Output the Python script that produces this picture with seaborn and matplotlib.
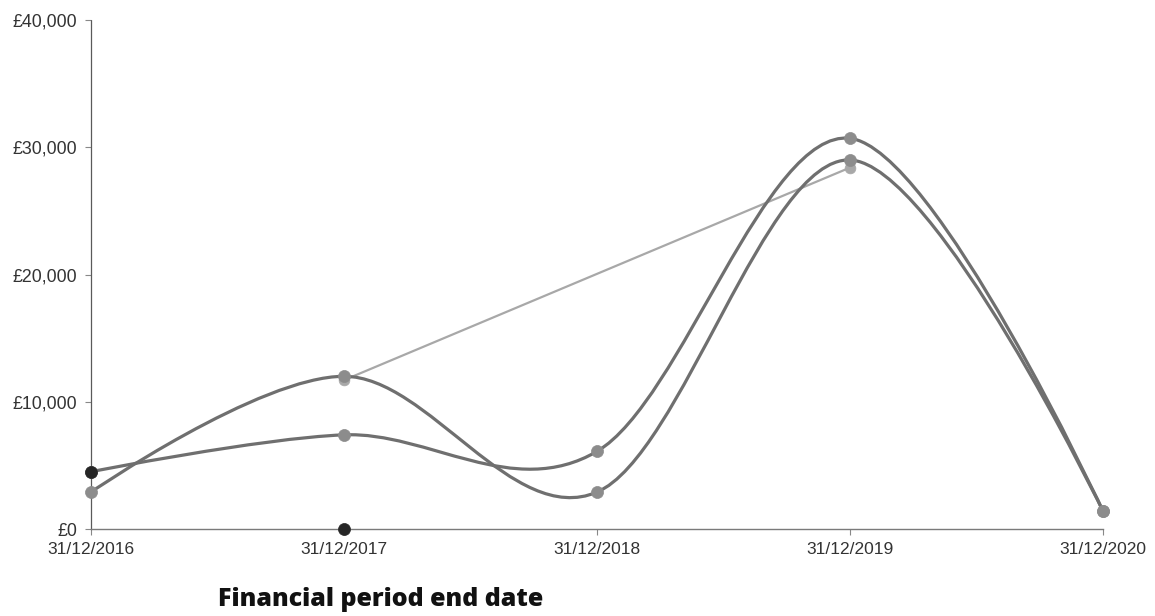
import numpy as np
import matplotlib
matplotlib.use("Agg")
import matplotlib.pyplot as plt
from matplotlib.path import Path
from matplotlib.patches import PathPatch
from matplotlib.ticker import FuncFormatter
import seaborn as sns

# Financial period end dates (category axis)
periods = ["31/12/2016", "31/12/2017", "31/12/2018", "31/12/2019", "31/12/2020"]

# Values per period (None = no figure filed for that period)
series_a = [4500, 7400, 6100, 30700, 1400]
series_b = [2900, 12000, 2900, 29000, 1400]
series_c = [None, 11700, None, 28400, None]
series_d = [4500, 0, None, None, None]

y_ticks = [0, 10000, 20000, 30000, 40000]

sns.set_theme(style="white")
plt.rcParams["font.family"] = ["Liberation Sans", "DejaVu Sans"]

fig = plt.figure(figsize=(11.55, 6.16), dpi=100)
ax = fig.add_axes([91 / 1155, 1 - 529 / 616, (1103 - 91) / 1155, (529 - 20) / 616])

CURVE = "#6f6f6f"
MARK = "#8c8c8c"
LIGHT = "#a8a8a8"
DARK = "#262626"


def cardinal_path(xs, ys, tension=0.0):
    """Cardinal spline through the points as Bezier segments (end controls on the end points)."""
    p = np.column_stack([np.asarray(xs, float), np.asarray(ys, float)])
    n = len(p)
    if n < 3:
        return Path(p, [Path.MOVETO] + [Path.LINETO] * (n - 1))
    k = (1 - tension) / 6
    verts = [tuple(p[0])]
    codes = [Path.MOVETO]
    for i in range(n - 1):
        c1 = p[i] + k * (p[i + 1] - p[i - 1]) if i > 0 else p[i]
        c2 = p[i + 1] - k * (p[i + 2] - p[i]) if i + 2 < n else p[i + 1]
        verts += [tuple(c1), tuple(c2), tuple(p[i + 1])]
        codes += [Path.CURVE4] * 3
    return Path(verts, codes)


def valid(values):
    xs = [i for i, v in enumerate(values) if v is not None]
    ys = [v for v in values if v is not None]
    return xs, ys


# Straight connector for the sparse series
xc, yc = valid(series_c)
sns.lineplot(x=xc, y=yc, ax=ax, color=LIGHT, linewidth=1.6, zorder=2)

# Smoothed series
for vals in (series_a, series_b):
    xs, ys = valid(vals)
    ax.add_patch(PathPatch(cardinal_path(xs, ys), facecolor="none",
                           edgecolor=CURVE, linewidth=2.3, zorder=3,
                           capstyle="round", joinstyle="round"))

for vals in (series_a, series_b):
    xs, ys = valid(vals)
    sns.scatterplot(x=xs, y=ys, ax=ax, color=MARK, s=75, edgecolor=MARK,
                    linewidth=0.5, zorder=4, legend=False, clip_on=False)
sns.scatterplot(x=xc, y=yc, ax=ax, color=LIGHT, s=60, edgecolor=LIGHT,
                linewidth=0.5, zorder=3.5, legend=False)

xd, yd = valid(series_d)
sns.scatterplot(x=xd, y=yd, ax=ax, color=DARK, s=75, edgecolor=DARK,
                linewidth=0.5, zorder=6, legend=False, clip_on=False)

ax.set_xlim(0, len(periods) - 1)
ax.set_ylim(0, 40000)
ax.set_xticks(range(len(periods)))
ax.set_xticklabels(periods)
ax.set_yticks(y_ticks)
ax.yaxis.set_major_formatter(FuncFormatter(lambda v, p: f"£{int(v):,}"))

for side in ("top", "right"):
    ax.spines[side].set_visible(False)
ax.spines["left"].set_color("#5a5a5a")
ax.spines["left"].set_linewidth(0.9)
ax.spines["left"].set_linestyle((0, (2, 1)))
ax.spines["bottom"].set_color("#7a7a7a")
ax.spines["bottom"].set_linewidth(1.0)

ax.tick_params(axis="y", left=True, length=4, width=0.8, color="#888888",
               pad=6, labelsize=12.8, labelcolor="#333333")
ax.tick_params(axis="x", bottom=True, length=4, width=0.8, color="#888888",
               pad=5, labelsize=12.5, labelcolor="#333333")
ax.set_xlabel("")
ax.set_ylabel("")
ax.grid(False)

fig.text(218 / 1155, 1 - 606 / 616, "Financial period end date",
         ha="left", va="baseline", fontsize=18, fontweight="heavy",
         family=["Open Sans", "DejaVu Sans"], color="#111111")

fig.savefig("out.png", dpi=100, facecolor="white")
